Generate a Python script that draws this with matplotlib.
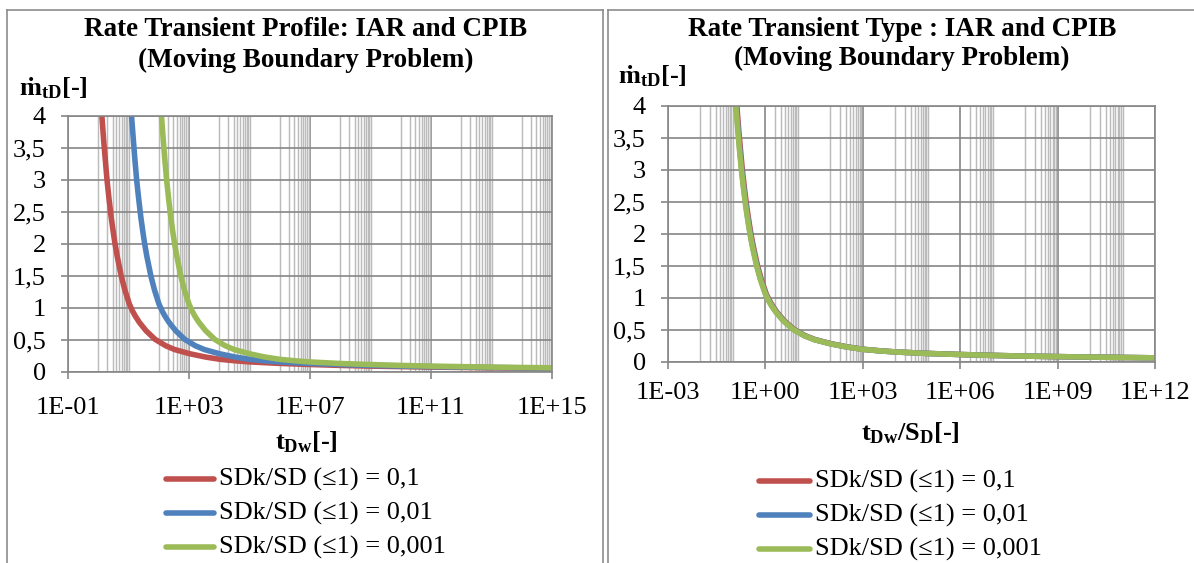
import matplotlib
matplotlib.use("Agg")
import matplotlib.pyplot as plt
from matplotlib.lines import Line2D
from matplotlib.ticker import FixedLocator, NullFormatter

plt.rcParams["font.family"] = ["Liberation Serif", "DejaVu Serif"]
plt.rcParams["mathtext.fontset"] = "custom"
plt.rcParams["mathtext.rm"] = "Liberation Serif"
plt.rcParams["mathtext.bf"] = "Liberation Serif:bold"
plt.rcParams["mathtext.it"] = "Liberation Serif:italic"

# ---- data -------------------------------------------------------------
series_labels = ["SDk/SD (\u22641) = 0,1", "SDk/SD (\u22641) = 0,01", "SDk/SD (\u22641) = 0,001"]
series_colors = ["#C0504D", "#4F81BD", "#9BBB59"]
s_d = [10, 100, 1000]  # storage ratio S_D of each case

# dimensionless time t_Dw and rate m_tD
t_red = [1.32, 1.51, 1.70, 1.95, 2.29, 2.69, 3.24, 3.59, 4.27, 5.75, 7.59, 10.7, 13.5, 17.0,
         22.9, 38.0, 75.9, 170, 339, 1.07e3, 3.39e3, 1.07e4, 3.39e4, 1.07e5,
         1e6, 1e7, 1e8, 1e9, 1e10, 1e11, 1e12, 1e13, 1e14, 1e15]
m_red = [4.0, 3.62, 3.33, 3.0, 2.69, 2.41, 2.14, 2.0, 1.80, 1.5, 1.28, 1.06, 0.955, 0.87,
         0.775, 0.645, 0.51, 0.41, 0.35, 0.285, 0.235, 0.198, 0.175, 0.157,
         0.134, 0.117, 0.103, 0.092, 0.084, 0.077, 0.071, 0.065, 0.061, 0.057]

t_blue = [12.6, 14.5, 16.2, 18.6, 21.9, 25.7, 30.9, 34.3, 40.7, 55.0, 72.4, 102, 129, 162,
          219, 363, 724, 1.62e3, 3.24e3, 1.02e4, 3.24e4, 1.02e5, 3.24e5, 1.02e6,
          1e7, 1e8, 1e9, 1e10, 1e11, 1e12, 1e13, 1e14, 1e15]
m_blue = [4.0, 3.62, 3.33, 3.0, 2.69, 2.41, 2.14, 2.0, 1.80, 1.5, 1.28, 1.06, 0.955, 0.87,
          0.775, 0.645, 0.51, 0.41, 0.35, 0.285, 0.235, 0.198, 0.175, 0.157,
          0.133, 0.117, 0.103, 0.092, 0.084, 0.077, 0.071, 0.065, 0.061]

t_green = [123, 141, 158, 182, 214, 251, 302, 335, 398, 537, 708, 1.0e3, 1.26e3, 1.58e3,
           2.14e3, 3.55e3, 7.08e3, 1.58e4, 3.16e4, 1e5, 3.16e5, 1e6, 3.16e6, 1e7,
           1e8, 1e9, 1e10, 1e11, 1e12, 1e13, 1e14, 1e15]
m_green = [4.0, 3.62, 3.33, 3.0, 2.69, 2.41, 2.14, 2.0, 1.80, 1.5, 1.28, 1.06, 0.955, 0.87,
           0.775, 0.645, 0.51, 0.41, 0.35, 0.285, 0.235, 0.198, 0.175, 0.157,
           0.133, 0.117, 0.103, 0.092, 0.084, 0.077, 0.071, 0.065]

y_ticks = [0, 0.5, 1, 1.5, 2, 2.5, 3, 3.5, 4]
y_ticklabels = ["0", "0,5", "1", "1,5", "2", "2,5", "3", "3,5", "4"]

left_xticks = [1e-1, 1e3, 1e7, 1e11, 1e15]
left_xticklabels = ["1E-01", "1E+03", "1E+07", "1E+11", "1E+15"]
right_xticks = [1e-3, 1e0, 1e3, 1e6, 1e9, 1e12]
right_xticklabels = ["1E-03", "1E+00", "1E+03", "1E+06", "1E+09", "1E+12"]

# decades that carry minor gridlines
left_minor_decades = [0, 2, 4, 6, 8, 10, 12, 14]
right_minor_decades = [-2, 0, 2, 4, 6, 8, 10]

# ---- figure -----------------------------------------------------------
W, H = 1194, 563
fig = plt.figure(figsize=(W / 100, H / 100), dpi=100)
fig.patch.set_facecolor("white")


def fx(p):
    return p / W


def fy(p):
    return 1 - p / H


GRID_DARK = "#868686"
GRID_LIGHT = "#BBBBBB"
FS = 19
LW = 4.0


def style_axes(ax, xticks, xlabels, minor_decades, xpad):
    ax.set_xscale("log")
    ax.set_xlim(xticks[0], xticks[-1])
    ax.set_ylim(0, 4)
    ax.xaxis.set_major_locator(FixedLocator(xticks))
    ax.set_xticklabels(xlabels)
    minors = [k * 10.0 ** d for d in minor_decades for k in range(1, 11)]
    ax.xaxis.set_minor_locator(FixedLocator(minors))
    ax.xaxis.set_minor_formatter(NullFormatter())
    ax.set_yticks(y_ticks)
    ax.set_yticklabels(y_ticklabels)
    ax.set_axisbelow(True)
    ax.grid(which="minor", axis="x", color=GRID_LIGHT, lw=1.05)
    ax.grid(which="major", axis="both", color=GRID_DARK, lw=1.2)
    for s in ax.spines.values():
        s.set_color(GRID_DARK)
        s.set_linewidth(1.2)
    ax.tick_params(which="major", direction="out", length=5, width=1.2,
                   color=GRID_DARK, labelsize=FS)
    ax.tick_params(axis="x", which="major", pad=xpad)
    ax.tick_params(axis="y", which="major", pad=11)
    ax.tick_params(which="minor", length=0)


ax1 = fig.add_axes([fx(68), fy(372), fx(552) - fx(68), fy(116) - fy(372)])
style_axes(ax1, left_xticks, left_xticklabels, left_minor_decades, 13)
for t, m, c in zip([t_red, t_blue, t_green], [m_red, m_blue, m_green], series_colors):
    ax1.plot(t, m, color=c, lw=LW, solid_joinstyle="round")

ax2 = fig.add_axes([fx(668), fy(362), fx(1155) - fx(668), fy(106) - fy(362)])
style_axes(ax2, right_xticks, right_xticklabels, right_minor_decades, 9.5)
for t, m, sd, c in zip([t_red, t_blue, t_green], [m_red, m_blue, m_green], s_d, series_colors):
    ax2.plot([v / sd for v in t], m, color=c, lw=LW, solid_joinstyle="round")

# titles
title_kw = dict(ha="center", va="center", fontsize=19.5, fontweight="bold")
fig.text(fx(306), fy(30), "Rate Transient Profile: IAR and CPIB", **title_kw)
fig.text(fx(306), fy(60), "(Moving Boundary Problem)", **title_kw)
fig.text(fx(902), fy(30), "Rate Transient Type : IAR and CPIB", **title_kw)
fig.text(fx(902), fy(58), "(Moving Boundary Problem)", **title_kw)

# axis labels
lab_kw = dict(va="center", fontsize=FS, fontweight="bold")
fig.text(fx(19), fy(88), "$\\mathbf{\u1e41_{tD}}$[-]", ha="left", **lab_kw)
fig.text(fx(618), fy(76), "$\\mathbf{\u1e41_{tD}}$[-]", ha="left", **lab_kw)
fig.text(fx(306), fy(442), "$\\mathbf{t_{Dw}}$[-]", ha="center", **lab_kw)
fig.text(fx(910), fy(433), "$\\mathbf{t_{Dw}/S_{D}}$[-]", ha="center", **lab_kw)


# legends
def draw_legend(x0, x1, rows):
    for y, c, lab in zip(rows, series_colors, series_labels):
        fig.add_artist(Line2D([fx(x0), fx(x1)], [fy(y), fy(y)], transform=fig.transFigure,
                              color=c, lw=LW, solid_capstyle="round"))
        fig.text(fx(x1 + 5), fy(y), lab, ha="left", va="center", fontsize=FS)


draw_legend(166, 214, [479, 513, 547])
draw_legend(759, 810, [481, 515, 549])

# panel frames
frame_kw = dict(transform=fig.transFigure, color="#8C8C8C", lw=1.2)
fig.add_artist(Line2D([fx(7), fx(7)], [fy(10), 0], **frame_kw))
fig.add_artist(Line2D([fx(7), fx(603)], [fy(10), fy(10)], **frame_kw))
fig.add_artist(Line2D([fx(603), fx(603)], [fy(10), 0], **frame_kw))
fig.add_artist(Line2D([fx(608), fx(608)], [fy(10), 0], **frame_kw))
fig.add_artist(Line2D([fx(608), fx(W)], [fy(10), fy(10)], **frame_kw))

fig.savefig("out.png", dpi=100)
